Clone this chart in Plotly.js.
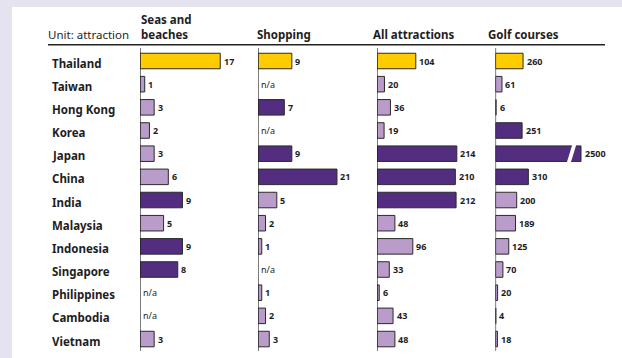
<!DOCTYPE html>
<html><head><meta charset="utf-8">
<script src="https://cdn.plot.ly/plotly-3.0.1.min.js"></script>
<style>html,body{margin:0;padding:0;background:#e5e3f0}#chart{width:622px;height:358px}</style>
</head><body><div id="chart"></div>
<script>
// ---- data ----
const countries = ['Thailand','Taiwan','Hong Kong','Korea','Japan','China','India','Malaysia','Indonesia','Singapore','Philippines','Cambodia','Vietnam'];
const seasBeaches = [17, 1, 3, 2, 3, 6, 9, 5, 9, 8, null, null, 3];
const shopping    = [9, null, 7, null, 9, 21, 5, 2, 1, null, 1, 2, 3];
const allAttractions = [104, 20, 36, 19, 214, 210, 212, 48, 96, 33, 6, 43, 48];
const golfCourses = [260, 61, 6, 251, 2500, 310, 200, 189, 125, 70, 20, 4, 18];
const panelTitles = ['Seas and<br>beaches', 'Shopping', 'All attractions', 'Golf courses'];
const unitLabel = 'Unit: attraction';
const naText = 'n/a';

// ---- layout constants (pixels) ----
const W = 622, H = 358;
const panels = [
  {start: 140, end: 245, pxPerUnit: 4.72, titleX: 141},
  {start: 258, end: 360, pxPerUnit: 3.76, titleX: 257},
  {start: 377, end: 480, pxPerUnit: 0.373, titleX: 372.5},
  {start: 495.5, end: 581, pxPerUnit: 0.106, titleX: 488}
];
const rowTop = 61, rowStep = 23.17;
const series = [seasBeaches, shopping, allAttractions, golfCourses];
const YELLOW = '#ffcc00', LIGHT = '#b99cca', DARK = '#532d80', EDGE = '#2a2a2a', TXT = '#1e1e1e';
const FONT = 'Noto Sans, Open Sans, sans-serif';

const px = v => v / W;
const py = v => 1 - v / H;
const n = countries.length;
const yTopPx = rowTop - rowStep / 2, yBotPx = rowTop + (n - 1) * rowStep + rowStep / 2;

const traces = [];
const annotations = [];
const shapes = [];
const layout = {
  width: W, height: H,
  margin: {l: 0, r: 0, t: 0, b: 0},
  paper_bgcolor: '#e5e3f0', plot_bgcolor: 'rgba(0,0,0,0)',
  showlegend: false, barmode: 'overlay',
  font: {family: FONT, color: TXT},
  yaxis: {domain: [py(yBotPx), py(yTopPx)], range: [n - 0.5, -0.5], visible: false, anchor: 'x', fixedrange: true}
};

// white card
shapes.push({type: 'rect', xref: 'paper', yref: 'paper', x0: px(12), x1: 1, y0: 0, y1: py(7), fillcolor: '#ffffff', line: {width: 0}, layer: 'below'});
// header rule
shapes.push({type: 'line', xref: 'paper', yref: 'paper', x0: px(48), x1: px(605), y0: py(44.8), y1: py(44.8), line: {color: '#222', width: 1.4}});

panels.forEach((p, k) => {
  const axName = k === 0 ? 'xaxis' : 'xaxis' + (k + 1);
  const axId = k === 0 ? 'x' : 'x' + (k + 1);
  const maxV = (p.end - p.start) / p.pxPerUnit;
  layout[axName] = {domain: [px(p.start), px(p.end)], range: [0, maxV], visible: false, anchor: 'y', fixedrange: true};
  const vals = series[k];
  // highlight: top three apart from Thailand
  const ranked = vals.map((v, i) => [v, i]).filter(d => d[1] !== 0 && d[0] != null).sort((a, b) => b[0] - a[0]).slice(0, 3).map(d => d[1]);
  const colors = vals.map((v, i) => i === 0 ? YELLOW : (ranked.includes(i) ? DARK : LIGHT));
  traces.push({
    type: 'bar', orientation: 'h', x: vals, y: countries.map((c, i) => i),
    xaxis: axId, yaxis: 'y', width: 0.67,
    marker: {color: colors, line: {color: EDGE, width: 1}},
    hoverinfo: 'skip'
  });
  // baseline
  shapes.push({type: 'line', xref: axId, yref: 'paper', x0: 0, x1: 0, y0: py(48), y1: py(351), line: {color: '#222', width: 1.2}});
  // value labels
  vals.forEach((v, i) => {
    const isNa = v == null;
    const xv = isNa ? 0 : Math.min(v, maxV);
    annotations.push({
      xref: axId, yref: 'y', x: xv, y: i, xanchor: 'left', yanchor: 'middle',
      xshift: isNa ? 0.5 : 1.5, showarrow: false,
      text: isNa ? naText : String(v),
      font: {size: 9, family: FONT, color: TXT, weight: isNa ? 400 : 700}
    });
    if (!isNa && v > maxV) {
      // break mark on overflowing bar
      const bx = p.start + 71; // slash position
      shapes.push({type: 'path', xref: 'paper', yref: 'y', fillcolor: '#ffffff', line: {width: 0},
        path: `M ${px(bx)},${i + 0.42} L ${px(bx + 4)},${i + 0.42} L ${px(bx + 10)},${i - 0.42} L ${px(bx + 6)},${i - 0.42} Z`});
      shapes.push({type: 'line', xref: axId + ' domain', yref: 'y', x0: 1, x1: 1, y0: i - 0.335, y1: i + 0.335, line: {color: EDGE, width: 1}});
    }
  });
  // panel title
  annotations.push({
    xref: 'paper', yref: 'paper', x: px(p.titleX - 2), y: py(44), xanchor: 'left', yanchor: 'bottom',
    showarrow: false, align: 'left', text: panelTitles[k],
    font: {size: 11.5, family: FONT, color: TXT, weight: 700}
  });
});

// unit label
annotations.push({xref: 'paper', yref: 'paper', x: px(46), y: py(44), xanchor: 'left', yanchor: 'bottom', showarrow: false,
  text: unitLabel, font: {size: 11.5, family: FONT, color: TXT}});

// country labels
countries.forEach((c, i) => {
  annotations.push({xref: 'paper', yref: 'y', x: px(50), y: i, xanchor: 'left', yanchor: 'middle', yshift: -2,
    showarrow: false, text: c, font: {size: 11.5, family: FONT, color: TXT, weight: 700}});
});

layout.annotations = annotations;
layout.shapes = shapes;
Plotly.newPlot('chart', traces, layout, {staticPlot: true, displayModeBar: false});
</script></body></html>
